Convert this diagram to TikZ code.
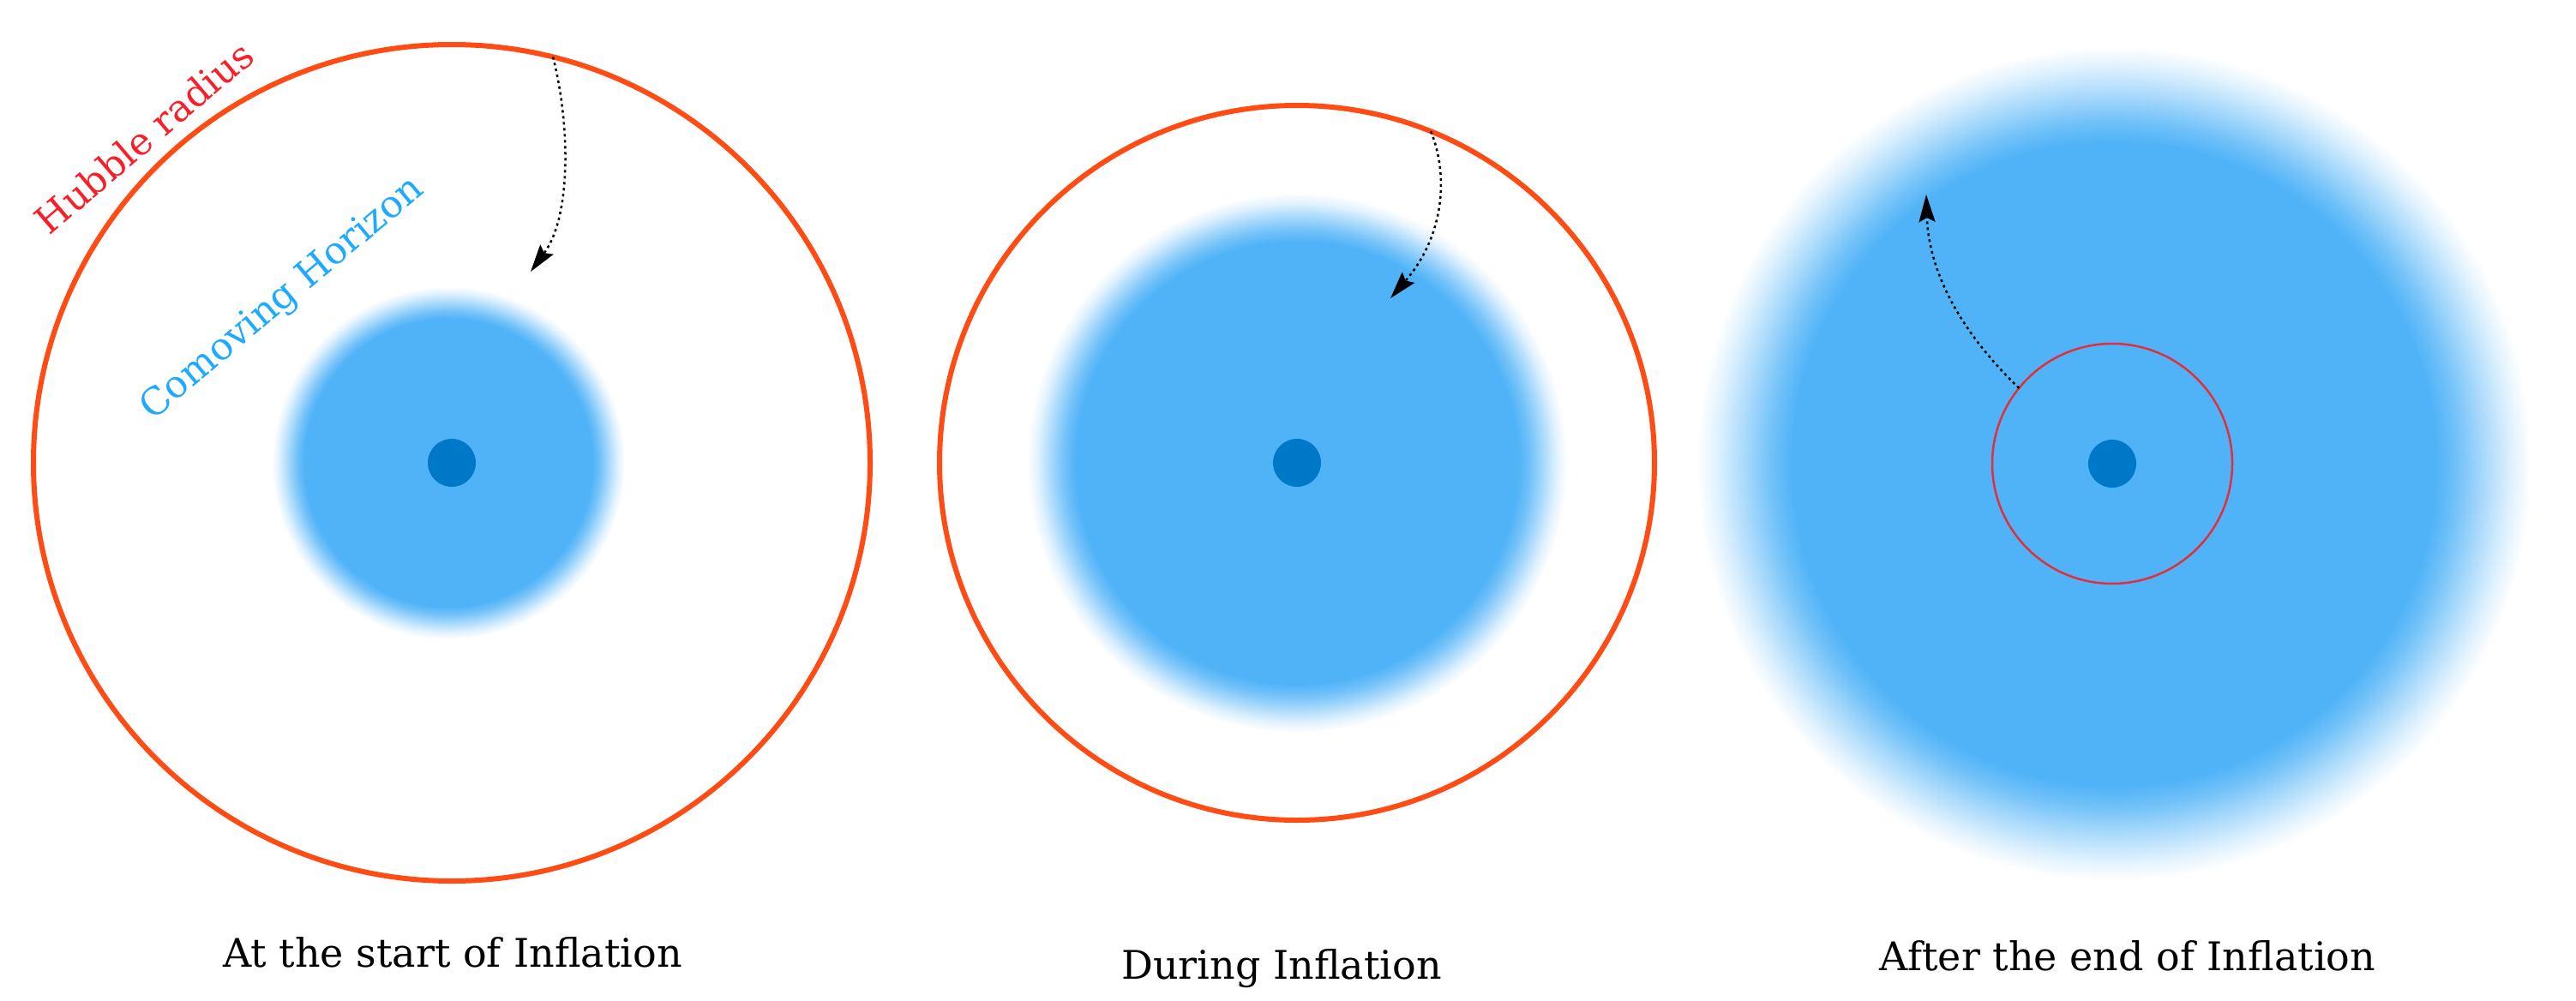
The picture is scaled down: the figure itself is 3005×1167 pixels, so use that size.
\documentclass[tikz,border=0pt]{standalone}
\usepackage{fontspec}
\setmainfont{DejaVu Serif}
\usetikzlibrary{arrows.meta}
\definecolor{hblue}{RGB}{80,179,247}
\definecolor{hdot}{RGB}{0,120,200}
\definecolor{hring}{RGB}{255,76,20}
\definecolor{hsmall}{RGB}{224,48,60}
\definecolor{hubtext}{RGB}{250,30,40}
\definecolor{comtext}{RGB}{30,170,255}
\colorlet{hbluehigh}{hblue!80!white}
\colorlet{hbluemid}{hblue!50!white}
\colorlet{hbluelow}{hblue!18!white}
% the path's bounding box is mapped to the inner 25bp radius of the shading
\pgfdeclareradialshading{blobone}{\pgfpointorigin}{color(0bp)=(hblue); color(20.4bp)=(hblue); color(21.5bp)=(hbluehigh); color(22.7bp)=(hbluemid); color(24bp)=(hbluelow); color(25bp)=(white); color(50bp)=(white)}
\pgfdeclareradialshading{blobtwo}{\pgfpointorigin}{color(0bp)=(hblue); color(20.5bp)=(hblue); color(21.6bp)=(hbluehigh); color(22.8bp)=(hbluemid); color(24bp)=(hbluelow); color(25bp)=(white); color(50bp)=(white)}
\pgfdeclareradialshading{blobthree}{\pgfpointorigin}{color(0bp)=(hblue); color(19.3bp)=(hblue); color(20.6bp)=(hbluehigh); color(22.1bp)=(hbluemid); color(23.8bp)=(hbluelow); color(25bp)=(white); color(50bp)=(white)}
\tikzset{
  ring/.style={circle, draw=hring, line width=6pt, inner sep=0pt, outer sep=0pt},
  smallring/.style={circle, draw=hsmall, line width=2.5pt, inner sep=0pt, outer sep=0pt},
  centredot/.style={circle, fill=hdot, minimum size=56pt, inner sep=0pt},
  flowarrow/.style={black, line width=2.5pt, dash pattern=on 3pt off 4pt, -{Stealth[length=32pt,width=19pt,inset=5pt]}},
  caption/.style={font=\fontsize{46}{52}\selectfont, anchor=base, text=black},
  sidelabel/.style={font=\fontsize{44}{50}\selectfont}
}
\begin{document}
\begin{tikzpicture}[x=1pt,y=-1pt]
\useasboundingbox (0,0) rectangle (3005,1167);
% blurred comoving horizons
\shade[shading=blobone] (523,540) circle[radius=206];
\shade[shading=blobtwo] (1513,540) circle[radius=315];
\shade[shading=blobthree] (2466,541) circle[radius=487];
% Hubble radii
\node[ring, minimum size=976pt] (hub1) at (527,540) {};
\node[ring, minimum size=834pt] (hub2) at (1513,540) {};
\node[smallring, minimum size=280pt] (hub3) at (2464,541) {};
% centre dots
\node[centredot] (dot1) at (527,540) {};
\node[centredot] (dot2) at (1513,540) {};
\node[centredot] (dot3) at (2464,541) {};
% arrows
\coordinate (e1) at (619,317);
\coordinate (e2) at (1622,348);
\coordinate (e3) at (2247,227);
\draw[flowarrow] (hub1.76.3) .. controls (664,140) and (668,250) .. (e1);
\draw[flowarrow] (hub2.68.5) .. controls (1690,205) and (1685,275) .. (e2);
\draw[flowarrow] (hub3.141.3) .. controls (2290,390) and (2250,320) .. (e3);
% labels
\node[sidelabel, text=hubtext, rotate=40.5] (lhub) at (168,160) {Hubble radius};
\node[sidelabel, text=comtext, rotate=40] (lcom) at (330,349) {Comoving Horizon};
\node[caption] (c1) at (528,1128) {At the start of Inflation};
\node[caption] (c2) at (1495,1142) {During Inflation};
\node[caption] (c3) at (2482,1132) {After the end of Inflation};
\end{tikzpicture}
\end{document}
